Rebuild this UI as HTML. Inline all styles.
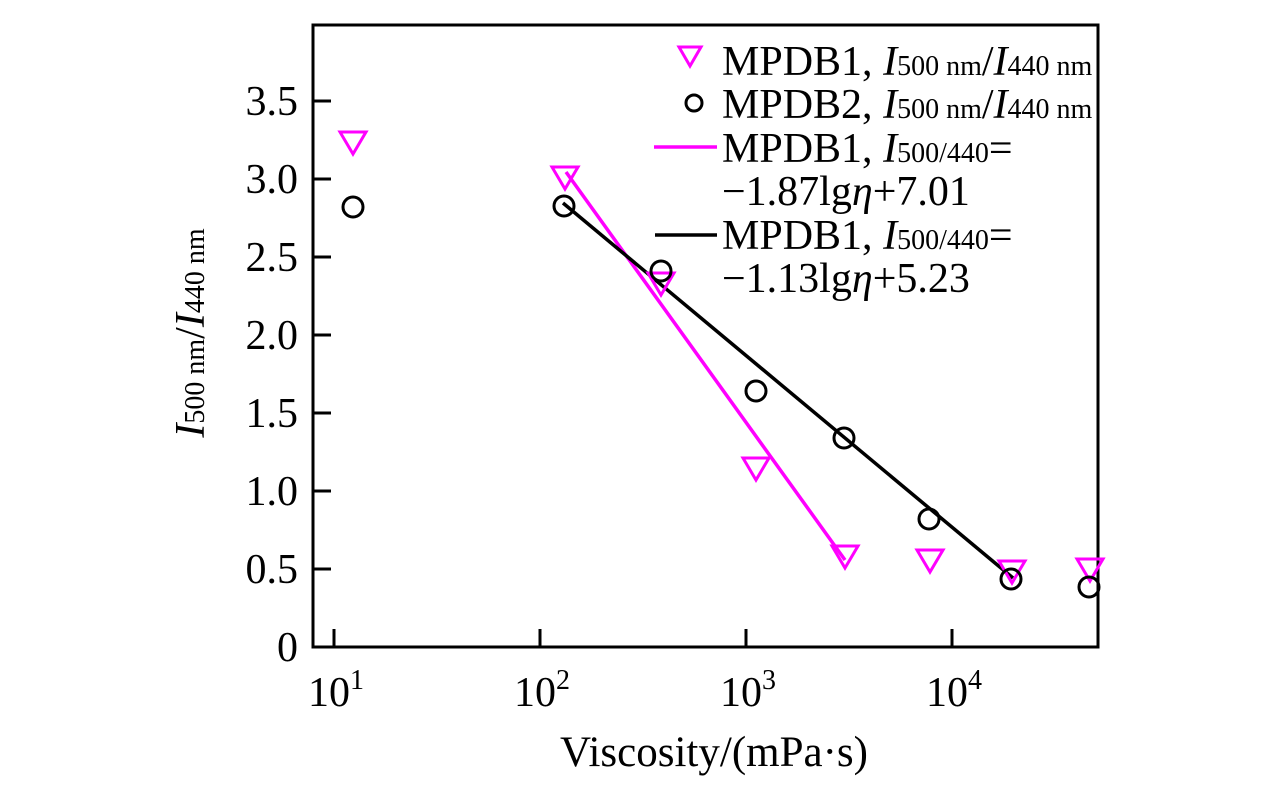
<!DOCTYPE html>
<html><head><meta charset="utf-8"><style>
body{margin:0;background:#fff}
svg{display:block}
text{font-family:"Liberation Serif",serif;fill:#000}
</style></head><body>
<svg width="1276" height="787" viewBox="0 0 1276 787">
<rect x="313" y="25" width="785" height="622" fill="none" stroke="#000" stroke-width="3"/>
<g stroke="#000" stroke-width="3">
<line x1="313" y1="569" x2="331" y2="569"/><line x1="313" y1="491" x2="331" y2="491"/>
<line x1="313" y1="413" x2="331" y2="413"/><line x1="313" y1="335" x2="331" y2="335"/>
<line x1="313" y1="257" x2="331" y2="257"/><line x1="313" y1="179" x2="331" y2="179"/>
<line x1="313" y1="101" x2="331" y2="101"/>
<line x1="334" y1="647" x2="334" y2="629"/><line x1="540" y1="647" x2="540" y2="629"/>
<line x1="746" y1="647" x2="746" y2="629"/><line x1="952" y1="647" x2="952" y2="629"/>
</g>
<g font-size="42" text-anchor="end">
<text x="298" y="661">0</text><text x="298" y="583">0.5</text><text x="298" y="505">1.0</text>
<text x="298" y="427">1.5</text><text x="298" y="349">2.0</text><text x="298" y="271">2.5</text>
<text x="298" y="193">3.0</text><text x="298" y="115">3.5</text>
</g>
<g font-size="42">
<text x="308" y="706">10<tspan font-size="28" dy="-17">1</tspan></text>
<text x="514" y="706">10<tspan font-size="28" dy="-17">2</tspan></text>
<text x="720" y="706">10<tspan font-size="28" dy="-17">3</tspan></text>
<text x="926" y="706">10<tspan font-size="28" dy="-17">4</tspan></text>
<text x="714" y="766" font-size="43" text-anchor="middle">Viscosity/(mPa·s)</text>
<text transform="translate(204,333) rotate(-90)" text-anchor="middle"><tspan font-style="italic">I</tspan><tspan font-size="28">500 nm</tspan>/<tspan font-style="italic">I</tspan><tspan font-size="28">440 nm</tspan></text>
</g>
<line x1="566" y1="172" x2="845" y2="560" stroke="#f0f" stroke-width="3.5"/>
<line x1="563" y1="203" x2="1013" y2="578" stroke="#000" stroke-width="3.5"/>
<g fill="none" stroke="#f0f" stroke-width="3">
<path d="M340,132 h26 l-13,22z"/><path d="M552,167 h26 l-13,22z"/><path d="M648,273 h26 l-13,22z"/>
<path d="M743,458 h26 l-13,22z"/><path d="M832,546 h26 l-13,22z"/><path d="M917,550 h26 l-13,22z"/>
<path d="M999,561 h26 l-13,22z"/><path d="M1077,559 h26 l-13,22z"/>
<path d="M679,47 h22 l-11,19z"/>
</g>
<g fill="none" stroke="#000" stroke-width="3">
<circle cx="353" cy="207" r="10"/><circle cx="564" cy="206" r="10"/><circle cx="661" cy="271" r="10"/>
<circle cx="756" cy="391" r="10"/><circle cx="844" cy="438" r="10"/><circle cx="929" cy="519" r="10"/>
<circle cx="1011" cy="579" r="10"/><circle cx="1089" cy="587" r="10"/>
<circle cx="694" cy="103" r="8"/>
</g>
<line x1="654" y1="147" x2="717" y2="147" stroke="#f0f" stroke-width="3.5"/>
<line x1="655" y1="235" x2="717" y2="235" stroke="#000" stroke-width="3.5"/>
<g font-size="42">
<text x="722" y="75">MPDB1, <tspan font-style="italic">I</tspan><tspan font-size="28">500 nm</tspan>/<tspan font-style="italic">I</tspan><tspan font-size="28">440 nm</tspan></text>
<text x="722" y="118">MPDB2, <tspan font-style="italic">I</tspan><tspan font-size="28">500 nm</tspan>/<tspan font-style="italic">I</tspan><tspan font-size="28">440 nm</tspan></text>
<text x="722" y="162">MPDB1, <tspan font-style="italic">I</tspan><tspan font-size="28">500/440</tspan>=</text>
<text x="722" y="205">−1.87lg<tspan font-style="italic">η</tspan>+7.01</text>
<text x="722" y="249">MPDB1, <tspan font-style="italic">I</tspan><tspan font-size="28">500/440</tspan>=</text>
<text x="722" y="292">−1.13lg<tspan font-style="italic">η</tspan>+5.23</text>
</g>
</svg>
</body></html>
